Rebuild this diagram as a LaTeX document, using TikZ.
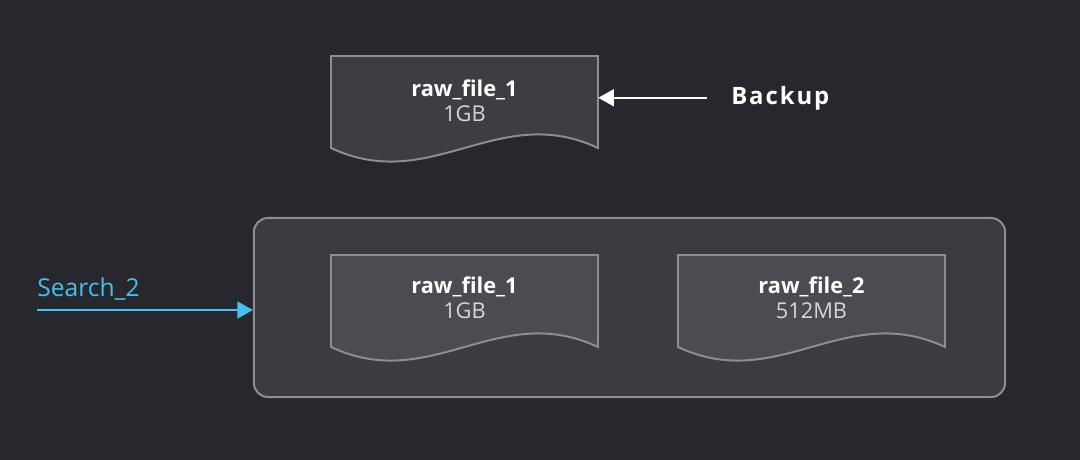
\documentclass[tikz,border=0pt]{standalone}
\usepackage{fontspec}
\setmainfont{Open Sans}
\usepackage{xcolor}
\usepackage{tikz}
\definecolor{bgdark}{RGB}{39,40,45}
\definecolor{storefill}{RGB}{59,60,65}
\definecolor{docfill}{RGB}{61,62,67}
\definecolor{docfillin}{RGB}{75,76,81}
\definecolor{edgegray}{RGB}{142,142,146}
\definecolor{valgray}{RGB}{214,214,216}
\definecolor{searchblue}{RGB}{75,190,240}
\usetikzlibrary{arrows.meta,positioning}

% draws the folded-paper outline of a file: #1 left, #2 top, #3 fill
\newcommand{\filesheet}[3]{%
  \draw[sheet, fill=#3] (#1,{#2+92}) .. controls +(100,47) and +(-100,-47) .. ++(267,0)
    -- ++(0,-92) -- ++(-267,0) -- cycle;
}

\begin{document}
\begin{tikzpicture}[
    x=0.025cm, y=-0.025cm,
    sheet/.style={draw=edgegray, line width=1.4pt},
    filebox/.style={rectangle, minimum width=6.675cm, minimum height=2.2cm, inner sep=0pt, align=center, text=white, font=\fontsize{15.5}{18}\selectfont\bfseries},
    storebox/.style={rectangle, draw=edgegray, line width=1.4pt, fill=storefill, rounded corners=10pt, minimum width=18.775cm, minimum height=4.475cm},
    arrow/.style={-{Triangle[length=11pt, width=12pt]}, line width=1.4pt}
]
\fill[bgdark] (0,0) rectangle (1080,460);
\useasboundingbox (0,0) rectangle (1080,460);

% backup copy
\filesheet{331}{56}{docfill}
\node[filebox] (backfile) at (464.5,101) {raw\_file\_1\\{\mdseries\color{valgray}1GB}};
\node[anchor=base west, inner sep=0pt, text=white, font=\fontsize{17}{20}\selectfont\bfseries\addfontfeatures{LetterSpace=8}] (backup) at (731,104) {Backup};

% search index
\node[storebox] (store) at (629.5,307.5) {};
\filesheet{331}{255}{docfillin}
\node[filebox] (file1) at (464.5,298) {raw\_file\_1\\{\mdseries\color{valgray}1GB}};
\filesheet{678}{255}{docfillin}
\node[filebox] (file2) at (811.5,298) {raw\_file\_2\\{\mdseries\color{valgray}512MB}};

\coordinate (searchstart) at (37,310);
\node[anchor=base west, inner sep=0pt, text=searchblue, font=\fontsize{17.5}{20}\selectfont] (search) at (37,296) {Search\_2};

\draw[arrow, white] (backup.west) ++(-24,0) -- (backup.west -| backfile.east);
\draw[arrow, searchblue] (searchstart) -- (searchstart -| store.west);

\end{tikzpicture}
\end{document}
